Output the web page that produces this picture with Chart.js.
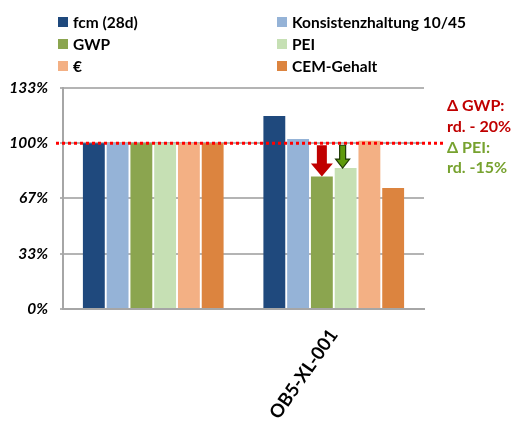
<!DOCTYPE html>
<html>
<head>
<meta charset="utf-8">
<script src="https://cdn.jsdelivr.net/npm/chart.js@4/dist/chart.umd.min.js"></script>
<style>
  html, body { margin: 0; padding: 0; background: #fff; }
  #wrap { width: 520px; height: 426px; }
</style>
</head>
<body>
<div id="wrap"><canvas id="chart" width="520" height="426"></canvas></div>
<script>
const categories = ["", "OB5-XL-001"];
const seriesNames = ["fcm (28d)", "Konsistenzhaltung 10/45", "GWP", "PEI", "€", "CEM-Gehalt"];
const seriesColors = ["#1F497D", "#95B3D7", "#8BA54F", "#C6E0B4", "#F3B084", "#DC843F"];
const fcm = [100, 116.5];
const konsistenz = [100, 102.5];
const gwp = [100, 80];
const pei = [100, 85];
const euro = [100, 101.5];
const cem = [100, 73];
const yTicks = [0, 33.33, 66.67, 100, 133.33];
const yTickLabels = ["0%", "33%", "67%", "100%", "133%"];
const refLine = 100;

const seriesValues = [fcm, konsistenz, gwp, pei, euro, cem];
const fontFam = "Lato, 'Open Sans', sans-serif";

// legend in two columns, like the original
const legendPlugin = {
    id: 'twoColLegend',
    afterDraw(chart) {
        const ctx = chart.ctx;
        ctx.save();
        ctx.font = "bold 15.5px " + fontFam;
        ctx.textBaseline = 'middle';
        ctx.textAlign = 'left';
        seriesNames.forEach((name, i) => {
            const col = i % 2, row = Math.floor(i / 2);
            const x = col === 0 ? 58 : 277;
            const y = 22 + row * 22;
            ctx.fillStyle = seriesColors[i];
            ctx.fillRect(x, y - 5, 10, 10);
            ctx.fillStyle = '#000';
            ctx.fillText(name, x + 15, y + 1);
        });
        ctx.restore();
    }
};

// dotted 100% line, arrows and delta notes
const notesPlugin = {
    id: 'notes',
    afterDatasetsDraw(chart) {
        const ctx = chart.ctx;
        const y = chart.scales.y;
        const ref = y.getPixelForValue(refLine);
        ctx.save();
        ctx.strokeStyle = '#FF0000';
        ctx.lineWidth = 3;
        ctx.setLineDash([3, 3]);
        ctx.beginPath();
        ctx.moveTo(chart.chartArea.left - 7, ref);
        ctx.lineTo(chart.chartArea.right + 21, ref);
        ctx.stroke();
        ctx.setLineDash([]);

        // red arrow over GWP bar
        const g = chart.getDatasetMeta(2).data[1];
        drawArrow(ctx, g.x, ref + 2, g.y, 10, 22, 13, '#C00000', null);
        // green arrow over PEI bar
        const p = chart.getDatasetMeta(3).data[1];
        drawArrow(ctx, p.x - 3, ref + 2, p.y, 6, 14, 9, '#5E9A0C', '#1E3A05');

        ctx.font = "bold 16px " + fontFam;
        ctx.textAlign = 'left';
        ctx.textBaseline = 'middle';
        const tx = chart.chartArea.right + 23;
        ctx.fillStyle = '#C00000';
        ctx.fillText('Δ GWP:', tx, 106);
        ctx.fillText('rd. - 20%', tx, 127);
        ctx.fillStyle = '#77A22F';
        ctx.fillText('Δ PEI:', tx, 148);
        ctx.fillText('rd. -15%', tx, 168);
        ctx.restore();
    }
};

function drawArrow(ctx, cx, top, tip, shaftW, headW, headH, fill, stroke) {
    const hs = tip - headH;
    ctx.beginPath();
    ctx.moveTo(cx - shaftW / 2, top);
    ctx.lineTo(cx + shaftW / 2, top);
    ctx.lineTo(cx + shaftW / 2, hs);
    ctx.lineTo(cx + headW / 2, hs);
    ctx.lineTo(cx, tip);
    ctx.lineTo(cx - headW / 2, hs);
    ctx.lineTo(cx - shaftW / 2, hs);
    ctx.closePath();
    ctx.fillStyle = fill;
    ctx.fill();
    if (stroke) {
        ctx.strokeStyle = stroke;
        ctx.lineWidth = 1.2;
        ctx.stroke();
    }
}

new Chart(document.getElementById('chart'), {
    type: 'bar',
    data: {
        labels: categories,
        datasets: seriesNames.map((name, i) => ({
            label: name,
            data: seriesValues[i],
            backgroundColor: seriesColors[i],
            borderWidth: 0,
            categoryPercentage: 0.79,
            barPercentage: 0.92
        }))
    },
    options: {
        responsive: false,
        animation: false,
        layout: { padding: { top: 88, right: 96, left: 0, bottom: 0 } },
        plugins: {
            legend: { display: false },
            tooltip: { enabled: false }
        },
        scales: {
            x: {
                grid: { display: false },
                border: { color: '#A6A6A6', width: 2 },
                ticks: {
                    color: '#000',
                    font: { family: fontFam, size: 18.5, weight: 'bold' },
                    minRotation: 55,
                    maxRotation: 55,
                    padding: 8
                },
                afterFit(scale) { scale.height = 117; }
            },
            y: {
                min: 0,
                max: 133.33,
                afterBuildTicks(scale) {
                    scale.ticks = yTicks.map(v => ({ value: v }));
                },
                grid: { color: '#B4B4B4', lineWidth: 2, tickLength: 3 },
                border: { color: '#A6A6A6', width: 2 },
                ticks: {
                    color: '#000',
                    font: { family: fontFam, size: 15.5, weight: 'bold', style: 'italic' },
                    padding: 12,
                    callback: (v, i) => yTickLabels[i]
                },
                afterFit(scale) { scale.width = 63; }
            }
        }
    },
    plugins: [legendPlugin, notesPlugin]
});
</script>
</body>
</html>
